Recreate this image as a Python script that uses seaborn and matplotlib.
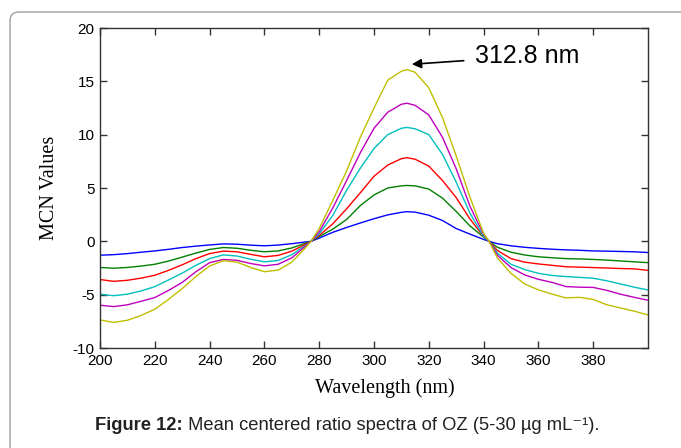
import numpy as np
import pandas as pd
import matplotlib
matplotlib.use("Agg")
import matplotlib.pyplot as plt
import seaborn as sns
from matplotlib.patches import FancyBboxPatch
from matplotlib.transforms import IdentityTransform

# ---------------- data ----------------
wavelength = [200, 205, 210, 215, 220, 225, 230, 235, 240, 245, 250, 255, 260, 265, 270, 275, 277,
              280, 285, 290, 295, 300, 305, 310, 312, 315, 320, 325, 330, 335, 340, 342,
              345, 350, 355, 360, 365, 370, 375, 380, 385, 390, 395, 400]

blue = [-1.30, -1.25, -1.15, -1.02, -0.90, -0.75, -0.58, -0.45, -0.34, -0.24, -0.27, -0.36, -0.42, -0.35, -0.22, -0.06, 0.0,
        0.30, 0.85, 1.30, 1.72, 2.12, 2.48, 2.72, 2.78, 2.74, 2.45, 1.95, 1.20, 0.68, 0.18, 0.0,
        -0.22, -0.42, -0.56, -0.66, -0.74, -0.80, -0.84, -0.90, -0.92, -0.95, -0.98, -1.05]

green = [-2.45, -2.52, -2.45, -2.32, -2.15, -1.85, -1.48, -1.10, -0.76, -0.58, -0.65, -0.84, -0.98, -0.90, -0.62, -0.18, 0.0,
         0.45, 1.15, 2.05, 3.35, 4.35, 5.00, 5.20, 5.24, 5.20, 4.90, 4.05, 2.80, 1.45, 0.40, 0.0,
         -0.55, -1.02, -1.28, -1.45, -1.54, -1.62, -1.65, -1.70, -1.76, -1.84, -1.92, -2.00]

red = [-3.58, -3.75, -3.65, -3.45, -3.18, -2.72, -2.20, -1.62, -1.15, -0.92, -0.98, -1.22, -1.45, -1.32, -0.92, -0.28, 0.0,
       0.55, 1.65, 3.05, 4.55, 6.10, 7.15, 7.75, 7.84, 7.70, 7.05, 5.70, 4.10, 2.10, 0.45, 0.0,
       -0.85, -1.62, -1.95, -2.12, -2.25, -2.38, -2.42, -2.46, -2.50, -2.55, -2.58, -2.72]

cyan = [-4.95, -5.10, -4.95, -4.65, -4.25, -3.62, -2.98, -2.25, -1.62, -1.27, -1.38, -1.68, -1.92, -1.80, -1.25, -0.38, 0.0,
        0.70, 2.45, 4.78, 6.85, 8.70, 10.00, 10.60, 10.68, 10.55, 10.00, 8.15, 5.55, 2.65, 0.45, 0.0,
        -1.10, -2.15, -2.65, -3.00, -3.20, -3.30, -3.38, -3.46, -3.70, -4.00, -4.30, -4.56]

magenta = [-5.99, -6.12, -5.95, -5.62, -5.27, -4.60, -3.85, -2.85, -2.00, -1.70, -1.78, -2.08, -2.30, -2.15, -1.55, -0.45, 0.0,
           0.90, 3.15, 5.70, 8.30, 10.60, 12.10, 12.85, 12.95, 12.75, 11.85, 9.75, 6.80, 3.30, 0.65, 0.0,
           -1.30, -2.46, -3.15, -3.56, -3.85, -4.24, -4.30, -4.32, -4.60, -4.96, -5.25, -5.52]

yellow = [-7.37, -7.60, -7.40, -6.95, -6.37, -5.45, -4.43, -3.30, -2.31, -1.82, -1.95, -2.45, -2.85, -2.70, -1.95, -0.60, 0.0,
          1.20, 3.85, 6.60, 9.75, 12.50, 15.10, 15.95, 16.10, 15.85, 14.40, 11.60, 8.00, 4.15, 0.75, 0.0,
          -1.55, -3.00, -4.00, -4.55, -4.95, -5.30, -5.25, -5.45, -5.95, -6.25, -6.55, -6.90]

series_names = ["5", "10", "15", "20", "25", "30"]
series_values = [blue, green, red, cyan, magenta, yellow]
series_colors = ["#0000ff", "#008000", "#ff0000", "#00bfbf", "#bf00bf", "#bfbf00"]

x_ticks = [200, 220, 240, 260, 280, 300, 320, 340, 360, 380]
y_ticks = [-10, -5, 0, 5, 10, 15, 20]

annot_text = "312.8 nm"
caption_bold = "Figure 12:"
caption_rest = " Mean centered ratio spectra of OZ (5-30 µg mL\u207b\u00b9)."

# ---------------- build long table ----------------
frames = []
for name, vals in zip(series_names, series_values):
    frames.append(pd.DataFrame({"Wavelength": wavelength, "MCN": vals, "conc": name}))
df = pd.concat(frames, ignore_index=True)

sns.set_theme(style="white")
plt.rcParams["axes.unicode_minus"] = False
plt.rcParams["font.family"] = ["Liberation Sans", "DejaVu Sans"]

fig = plt.figure(figsize=(6.81, 4.48), dpi=100)
ax = fig.add_axes([100 / 681, 1 - 348 / 448, 548 / 681, 320 / 448])

sns.lineplot(data=df, x="Wavelength", y="MCN", hue="conc", palette=series_colors,
             hue_order=series_names, linewidth=1.0, legend=False, ax=ax, sort=False)

ax.set_xlim(200, 400)
ax.set_ylim(-10, 20)
ax.set_xticks(x_ticks)
ax.set_yticks(y_ticks)
ax.set_xticklabels([str(t) for t in x_ticks])
ax.set_yticklabels([str(t) for t in y_ticks])
ax.tick_params(direction="in", length=5, width=1, color="#333333",
               labelsize=11, labelcolor="black", top=True, right=True,
               bottom=True, left=True, pad=4)
for s in ax.spines.values():
    s.set_color("#333333")
    s.set_linewidth(1.0)

ax.set_xlabel("Wavelength (nm)", family=["Liberation Serif", "DejaVu Serif"], fontsize=14.5,
              color="black", labelpad=6)
ax.xaxis.set_label_coords(0.52, -0.095)
ax.set_ylabel("MCN Values", family=["Liberation Serif", "DejaVu Serif"], fontsize=14.5,
              color="black", labelpad=10)

ax.annotate(annot_text, xy=(313.8, 16.6), xytext=(337.0, 17.35),
            fontsize=18, color="black", va="center", ha="left",
            arrowprops=dict(arrowstyle="-|>", color="black", lw=1.2,
                            mutation_scale=14, shrinkA=6, shrinkB=0))

# page frame
frame = FancyBboxPatch((10, -30), 720, 448 - 12 + 30,
                       boxstyle="round,pad=0,rounding_size=9",
                       transform=IdentityTransform(), fc="none", ec="#a0a0a0", lw=1.0)
fig.add_artist(frame)

# caption
cap_family = ["Liberation Sans", "DejaVu Sans"]
t1 = fig.text(95 / 681, 1 - 425 / 448, caption_bold, fontsize=13.2, fontweight="bold",
              family=cap_family, va="center", ha="left", color="#222222")
fig.canvas.draw()
bb = t1.get_window_extent(renderer=fig.canvas.get_renderer())
fig.text(bb.x1 / (6.81 * 100), 1 - 425 / 448, caption_rest, fontsize=13.2,
         family=cap_family, va="center", ha="left", color="#222222")

fig.savefig("out.png", dpi=100)
